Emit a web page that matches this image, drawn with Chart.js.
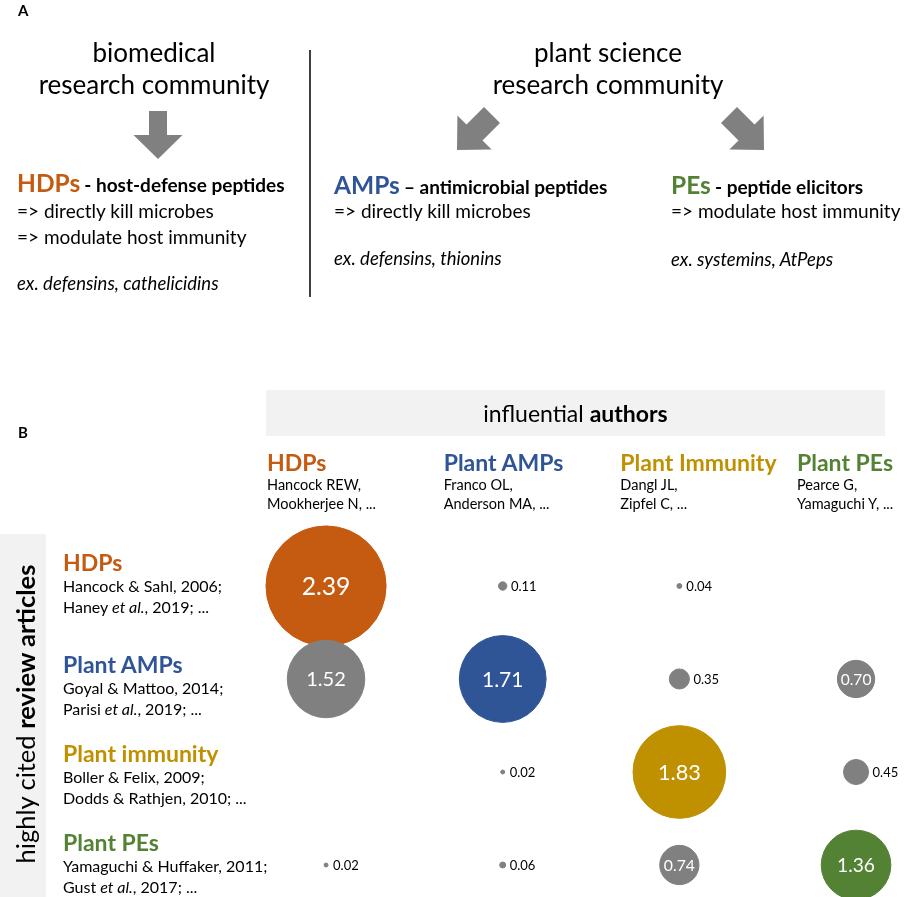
<!DOCTYPE html>
<html>
<head>
<meta charset="utf-8">
<script src="https://cdn.jsdelivr.net/npm/chart.js@4.4.1/dist/chart.umd.min.js"></script>
<style>
  body { margin: 0; background: #fff; font-family: Lato, sans-serif; color: #000; }
  #page { position: relative; width: 905px; height: 897px; overflow: hidden; }
  #chart { position: absolute; left: 0; top: 0; }
  #arrows { position: absolute; left: 0; top: 0; }
  .t { position: absolute; white-space: nowrap; line-height: 30px; }
  .big { font-size: 26px; text-align: center; width: 300px; }
  .grp { font-size: 24.5px; font-weight: bold; }
  .sub { font-size: 19px; font-weight: bold; }
  .body { font-size: 19px; }
  .ex { font-size: 18.5px; font-style: italic; }
  .box { position: absolute; background: #f2f2f2; }
</style>
</head>
<body>
<div id="page">
  <canvas id="chart" width="905" height="897"></canvas>

  <!-- panel A -->
  <svg id="arrows" width="905" height="897">
    <line x1="310" y1="50" x2="310" y2="297" stroke="#000" stroke-width="1.5"/>
    <polygon fill="#808080" points="149,111 167,111 167,135 182.5,135 158,159 133.5,135 149,135"/>
    <polygon fill="#808080" points="737,107 754.5,124.5 763.6,115.4 764,150 729.4,149.6 738.5,140.5 721,123"/>
    <polygon fill="#808080" points="484,107 466.5,124.5 457.4,115.4 457,150 491.6,149.6 482.5,140.5 500,123"/>
  </svg>
  <div class="t" style="left:18px;top:-5px;font-size:15px;font-weight:bold;">A</div>
  <div class="t big" style="left:4px;top:37px;">biomedical</div>
  <div class="t big" style="left:4px;top:69px;">research community</div>
  <div class="t big" style="left:458px;top:37px;">plant science</div>
  <div class="t big" style="left:458px;top:69px;">research community</div>

  <div class="t" style="left:17px;top:168px;"><span class="grp" style="color:#C55A11">HDPs</span> <span class="sub">- host-defense peptides</span></div>
  <div class="t body" style="left:17px;top:196px;">=&gt; directly kill microbes</div>
  <div class="t body" style="left:17px;top:222px;">=&gt; modulate host immunity</div>
  <div class="t ex" style="left:17px;top:268px;">ex. defensins, cathelicidins</div>

  <div class="t" style="left:334px;top:170px;"><span class="grp" style="color:#2F5597">AMPs</span> <span class="sub">– antimicrobial peptides</span></div>
  <div class="t body" style="left:334px;top:196px;">=&gt; directly kill microbes</div>
  <div class="t ex" style="left:334px;top:243px;">ex. defensins, thionins</div>

  <div class="t" style="left:671px;top:170px;"><span class="grp" style="color:#548235">PEs</span> <span class="sub">- peptide elicitors</span></div>
  <div class="t body" style="left:671px;top:196px;">=&gt; modulate host immunity</div>
  <div class="t ex" style="left:671px;top:244px;">ex. systemins, AtPeps</div>

  <!-- panel B -->
  <div class="t" style="left:18px;top:417px;font-size:15px;font-weight:bold;">B</div>
  <div class="box" style="left:266px;top:390px;width:619px;height:46px;"></div>
  <div class="t" style="left:266px;top:398px;width:619px;text-align:center;font-size:23px;">influential <b>authors</b></div>
  <div class="box" style="left:0;top:534px;width:46px;height:363px;"></div>
  <div class="t" style="left:-175px;top:694px;width:400px;line-height:40px;text-align:center;font-size:25.5px;transform:rotate(-90deg);">highly cited <b>review articles</b></div>
  <div id="labels"></div>
</div>

<script>
// columns: influential authors, rows: highly cited review articles
const authorGroups = ['HDPs', 'Plant AMPs', 'Plant Immunity', 'Plant PEs'];
const authorNames = [
  ['Hancock REW,', 'Mookherjee N, ...'],
  ['Franco OL,', 'Anderson MA, ...'],
  ['Dangl JL,', 'Zipfel C, ...'],
  ['Pearce G,', 'Yamaguchi Y, ...']
];
const reviewGroups = ['HDPs', 'Plant AMPs', 'Plant immunity', 'Plant PEs'];
const reviewRefs = [
  ['Hancock &amp; Sahl, 2006;', 'Haney <i>et al.</i>, 2019; ...'],
  ['Goyal &amp; Mattoo, 2014;', 'Parisi <i>et al.</i>, 2019; ...'],
  ['Boller &amp; Felix, 2009;', 'Dodds &amp; Rathjen, 2010; ...'],
  ['Yamaguchi &amp; Huffaker, 2011;', 'Gust <i>et al.</i>, 2017; ...']
];
const groupColors = ['#C55A11', '#2F5597', '#BF9000', '#548235'];

// one value per author column (null = no bubble)
const hdpReviews      = [2.39, 0.11, 0.04, null];
const ampReviews      = [1.52, 1.71, 0.35, 0.70];
const immunityReviews = [null, 0.02, 1.83, 0.45];
const peReviews       = [0.02, 0.06, 0.74, 1.36];

const rows = [hdpReviews, ampReviews, immunityReviews, peReviews];
const points = [];
rows.forEach((vals, r) => {
  vals.forEach((v, c) => {
    if (v !== null) points.push({ x: c, y: r, r: 24.5 * v + 1.5, v: v });
  });
});

const valueLabels = {
  id: 'valueLabels',
  afterDatasetsDraw(chart) {
    const c = chart.ctx;
    chart.getDatasetMeta(0).data.forEach((el, i) => {
      const p = points[i];
      c.save();
      c.textBaseline = 'middle';
      if (p.v >= 0.7) {
        const size = p.r * 0.22 + 11.5;
        c.font = size.toFixed(1) + 'px Lato';
        c.fillStyle = '#fff';
        c.textAlign = 'center';
        c.fillText(p.v.toFixed(2), el.x, el.y + 1);
      } else {
        c.font = '13px Lato';
        c.fillStyle = '#000';
        c.textAlign = 'left';
        c.fillText(p.v.toFixed(2), el.x + Math.max(p.r + 4, 7), el.y + 1);
      }
      c.restore();
    });
  }
};

const bubbleColor = ctx => {
  const p = ctx.raw;
  if (!p) return '#808080';
  return p.x === p.y ? groupColors[p.y] : '#808080';
};

const chart = new Chart(document.getElementById('chart'), {
  type: 'bubble',
  data: {
    datasets: [{
      data: points,
      backgroundColor: bubbleColor,
      borderColor: bubbleColor,
      borderWidth: 1,
      clip: false
    }]
  },
  options: {
    responsive: false,
    animation: false,
    events: [],
    layout: { autoPadding: false, padding: { left: 237.7, right: 4.8, top: 516.25, bottom: 4.1 } },
    scales: {
      x: { type: 'linear', min: -0.5, max: 3.25, display: false },
      y: { type: 'linear', min: -0.75, max: 3.3, reverse: true, display: false }
    },
    plugins: { legend: { display: false }, tooltip: { enabled: false } }
  },
  plugins: [valueLabels]
});

// column and row labels
let html = '';
authorGroups.forEach((name, c) => {
  const left = chart.scales.x.getPixelForValue(c) - 59;
  html += '<div class="t" style="left:' + left + 'px;top:447px;font-size:23px;font-weight:bold;color:' + groupColors[c] + '">' + name + '</div>';
  html += '<div class="t" style="left:' + left + 'px;top:470px;font-size:14.5px;">' + authorNames[c][0] + '</div>';
  html += '<div class="t" style="left:' + left + 'px;top:489px;font-size:14.5px;">' + authorNames[c][1] + '</div>';
});
const rowTitleY = [562, 664, 753, 842];
reviewGroups.forEach((name, r) => {
  const y = rowTitleY[r];
  html += '<div class="t" style="left:63px;top:' + (y - 15) + 'px;font-size:23px;font-weight:bold;color:' + groupColors[r] + '">' + name + '</div>';
  html += '<div class="t" style="left:63px;top:' + (y + 9) + 'px;font-size:16px;">' + reviewRefs[r][0] + '</div>';
  html += '<div class="t" style="left:63px;top:' + (y + 30) + 'px;font-size:16px;">' + reviewRefs[r][1] + '</div>';
});
document.getElementById('labels').innerHTML = html;
</script>
</body>
</html>
